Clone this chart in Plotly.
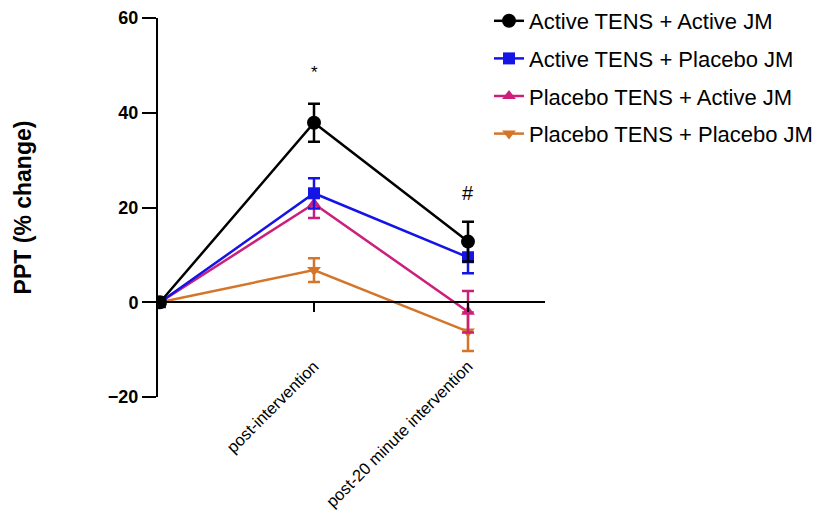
import plotly.graph_objects as go

timepoints = [0, 1, 2]
tick_labels = ["post-intervention", "post-20 minute intervention"]
series_names = ["Active TENS + Active JM", "Active TENS + Placebo JM",
                "Placebo TENS + Active JM", "Placebo TENS + Placebo JM"]
aa_mean = [0, 37.9, 12.8]
aa_err = [0, 4.0, 4.2]
ap_mean = [0, 23.0, 9.5]
ap_err = [0, 3.2, 3.4]
pa_mean = [0, 20.8, -2.0]
pa_err = [0, 3.0, 4.4]
pp_mean = [0, 6.8, -6.2]
pp_err = [0, 2.5, 4.1]

colors = ["#000000", "#1414e6", "#cc1f7c", "#d4752a"]
symbols = ["circle", "square", "triangle-up", "triangle-down"]
sizes = [14, 12, 12, 12]
means = [aa_mean, ap_mean, pa_mean, pp_mean]
errs = [aa_err, ap_err, pa_err, pp_err]

W, H = 823, 514
L, R, T, B = 158, 0, 0, 117
plot_left, plot_right, plot_top, plot_bottom = 158, 545, 18, 397
paper_w = W - L - R
paper_h = H - T - B
x_dom = [0, (plot_right - L) / paper_w]
y_dom = [(H - B - plot_bottom) / paper_h, (H - B - plot_top) / paper_h]
y_range = [-20, 60]
zero_pos = y_dom[0] + (0 - y_range[0]) / (y_range[1] - y_range[0]) * (y_dom[1] - y_dom[0])

fig = go.Figure()
order = [3, 2, 1, 0]
for i in order:
    fig.add_trace(go.Scatter(
        x=timepoints, y=means[i], name=series_names[i], mode="lines+markers",
        line=dict(color=colors[i], width=2.5),
        marker=dict(symbol=symbols[i], size=sizes[i], color=colors[i]),
        error_y=dict(type="data", array=errs[i], visible=True,
                     color=colors[i], thickness=2.5, width=6),
        legendgroup=str(i), legendrank=i + 1,
    ))

fig.add_annotation(x=1, y=48.5, text="*", showarrow=False,
                   font=dict(size=17, color="#000"))
fig.add_annotation(x=2, y=23, text="#", showarrow=False,
                   font=dict(size=20, color="#000"))

fig.update_layout(
    width=W, height=H,
    margin=dict(l=L, r=R, t=T, b=B),
    paper_bgcolor="white", plot_bgcolor="white",
    font=dict(family="Liberation Sans, Arial, sans-serif", color="#000"),
    showlegend=True,
    legend=dict(x=(489 - L) / paper_w, y=1.0, xanchor="left", yanchor="top",
                font=dict(size=22), tracegroupgap=6,
                traceorder="grouped", itemwidth=30, bgcolor="rgba(0,0,0,0)"),
    xaxis=dict(domain=x_dom, range=[-0.013, 2.5], anchor="free", position=zero_pos,
               showline=True, linecolor="#000", linewidth=2,
               showgrid=False, zeroline=False,
               tickmode="array", tickvals=[1, 2], ticktext=tick_labels,
               ticks="outside", ticklen=9, tickwidth=2, tickcolor="#000",
               tickangle=-45, tickfont=dict(size=16.5),
               ticklabelstandoff=38, automargin=False),
    yaxis=dict(domain=y_dom, range=y_range, tickvals=[-20, 0, 20, 40, 60],
               showline=True, linecolor="#000", linewidth=2,
               showgrid=False, zeroline=False,
               ticks="outside", ticklen=14, tickwidth=2, tickcolor="#000",
               tickfont=dict(size=18, weight="bold"),
               title=dict(text="PPT (% change)", standoff=70,
                          font=dict(size=23, weight="bold")),
               automargin=False),
)

fig.write_html("out.html", config={"displayModeBar": False},
               post_script="document.body.style.margin='0';document.body.style.overflow='hidden';")
